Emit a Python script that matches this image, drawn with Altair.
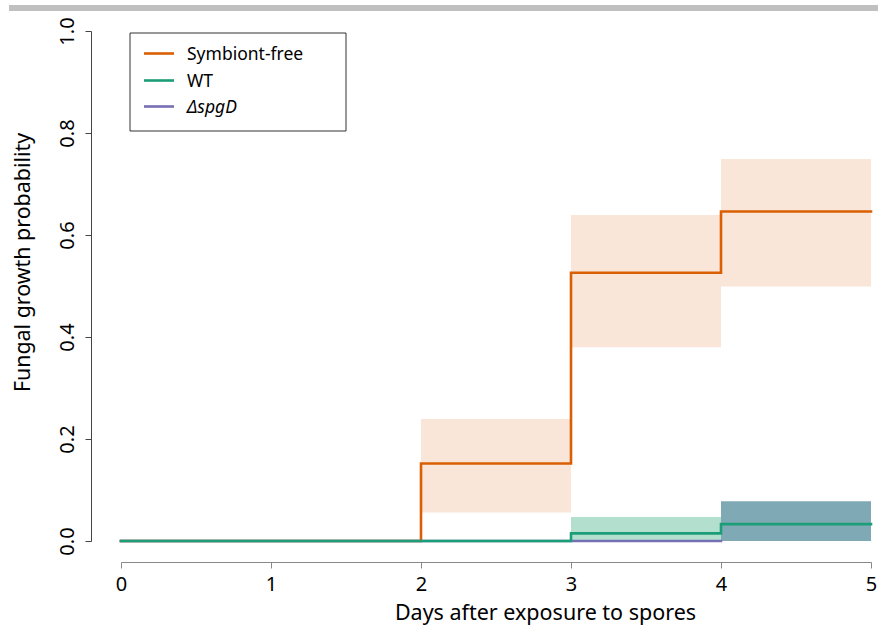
import altair as alt
import pandas as pd

FONT = "Noto Sans"

# ---- data ----
x_ticks = [0, 1, 2, 3, 4, 5]
y_ticks = [0.0, 0.2, 0.4, 0.6, 0.8, 1.0]

series_names = ["Symbiont-free", "WT", "ΔspgD"]
series_colors = ["#d95f02", "#1b9e77", "#7570b3"]

sf_days = [0, 2, 3, 4, 5]
sf_prob = [0.0, 0.152, 0.526, 0.646, 0.646]
wt_days = [0, 3, 4, 5]
wt_prob = [0.0, 0.015, 0.033, 0.033]
sp_days = [0, 4]
sp_prob = [0.0, 0.0]

band_start = [2, 3, 4, 3, 4]
band_end = [3, 4, 5, 4, 5]
band_low = [0.056, 0.380, 0.499, 0.0, 0.0]
band_high = [0.239, 0.639, 0.749, 0.047, 0.078]
band_color = ["#f9e6d9", "#f9e6d9", "#f9e6d9", "#b3dfcf", "#80a9b6"]

# ---- tables ----
bands = pd.DataFrame({"x": band_start, "x2": band_end, "lo": band_low,
                      "hi": band_high, "col": band_color})

def series_df(days, prob, name):
    return pd.DataFrame({"day": days, "prob": prob, "series": name})

sf_df = series_df(sf_days, sf_prob, series_names[0])
wt_df = series_df(wt_days, wt_prob, series_names[1])
sp_df = series_df(sp_days, sp_prob, series_names[2])

xscale = alt.Scale(domain=[0, 5], nice=False, zero=False)
yscale = alt.Scale(domain=[0, 1], nice=False)

x_axis = alt.Axis(values=x_ticks, format="d", offset=21, tickSize=6,
                  labelPadding=6, labelFontSize=20, labelFont=FONT,
                  labelFlush=False, labelOverlap=False,
                  labelColor="black", domainColor="#888", tickColor="#888",
                  grid=False, title="Days after exposure to spores",
                  titleFont=FONT, titleFontSize=21.5, titleFontWeight="normal",
                  titleColor="black", titleX=424, titleY=57,
                  titleAlign="center", titleBaseline="alphabetic")
y_axis = alt.Axis(values=y_ticks, format=".1f", offset=30, tickSize=6,
                  labelAngle=270, labelAlign="center",
                  labelBaseline="alphabetic", labelPadding=12,
                  labelFlush=False, labelOverlap=False,
                  labelFontSize=20, labelFont=FONT, labelColor="black",
                  domainColor="#444", tickColor="#444", grid=False,
                  title="Fungal growth probability", titleFont=FONT,
                  titleFontSize=21.4, titleFontWeight="normal",
                  titleColor="black", titleAngle=270, titleX=-62, titleY=231,
                  titleAlign="center", titleBaseline="alphabetic")

band_layer = alt.Chart(bands).mark_rect(opacity=1).encode(
    x=alt.X("x:Q", scale=xscale, axis=x_axis),
    x2="x2:Q",
    y=alt.Y("lo:Q", scale=yscale, axis=y_axis),
    y2="hi:Q",
    color=alt.Color("col:N", scale=None),
)

def line_layer(df, color):
    return alt.Chart(df).mark_line(interpolate="step-after", strokeWidth=2.6,
                                   color=color, strokeCap="square").encode(
        x=alt.X("day:Q", scale=xscale),
        y=alt.Y("prob:Q", scale=yscale),
    )

lines = [line_layer(sf_df, series_colors[0]),
         line_layer(sp_df, series_colors[2]),
         line_layer(wt_df, series_colors[1])]

# top gray strip
one = pd.DataFrame({"a": [0]})
strip = alt.Chart(one).mark_rect(color="#c0c0c0").encode(
    x=alt.value(-112), x2=alt.value(757), y=alt.value(-26), y2=alt.value(-20))

# manual legend
leg_box = alt.Chart(one).mark_rect(fill="white", stroke="#333",
                                   strokeWidth=1).encode(
    x=alt.value(9), x2=alt.value(225), y=alt.value(2), y2=alt.value(100))
leg_layers = [leg_box]
leg_y = [22.5, 49.5, 75.5]
for name, col, yy in zip(series_names, series_colors, leg_y):
    leg_layers.append(alt.Chart(one).mark_rule(color=col, strokeWidth=2.6).encode(
        x=alt.value(23), x2=alt.value(53), y=alt.value(yy)))
    leg_layers.append(alt.Chart(one).mark_text(
        align="left", baseline="middle", font=FONT, fontSize=17.5,
        fontStyle="italic" if name.startswith("Δ") else "normal",
        color="black").encode(
        x=alt.value(66), y=alt.value(yy + 1), text=alt.value(name)))

chart = alt.layer(strip, band_layer, *lines, *leg_layers).properties(
    width=750, height=510,
    autosize=alt.AutoSizeParams(type="none"),
    padding={"left": 121, "top": 31, "right": 7, "bottom": 91},
).configure_view(stroke=None)

chart.save("out.html", embed_options={"renderer": "svg", "actions": False})
